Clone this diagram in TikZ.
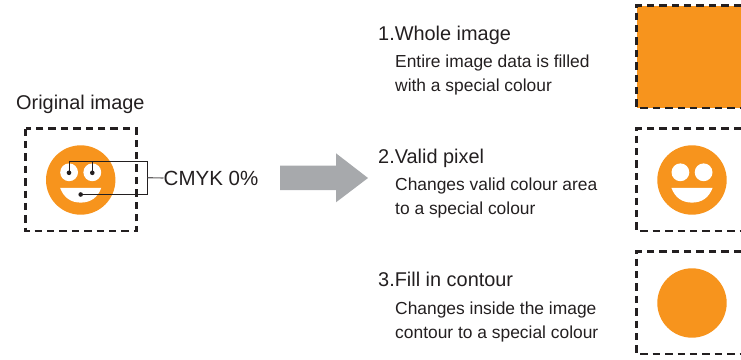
\documentclass[tikz,border=0pt]{standalone}
\usepackage{fontspec}
\setmainfont{Liberation Sans}
\definecolor{facecol}{HTML}{F7941D}
\definecolor{arrowcol}{HTML}{A7A9AC}
\definecolor{inkcol}{HTML}{231F20}
\tikzset{
  dashbox/.style={draw=inkcol,line width=2.4pt,dash pattern=on 7.4pt off 5pt},
  leader/.style={draw=inkcol,line width=1pt},
  headtext/.style={anchor=base west,inner sep=0pt,text=inkcol,font=\fontsize{19.9}{22}\selectfont},
  subtext/.style={anchor=base west,inner sep=0pt,text=inkcol,font=\fontsize{17.4}{20}\selectfont},
  pin/.style={circle,fill=inkcol,inner sep=0pt,minimum size=4.6pt},
  pics/smiley/.style={code={
    \fill[facecol] (0,0) circle[radius=34.7];
    \fill[white] (-11.6,-7.7) circle[radius=8.9];
    \fill[white] (11.6,-7.7) circle[radius=8.9];
    \fill[white] (-20.6,7.8) -- (20.6,7.8) .. controls (17,17.5) and (10,22.6) .. (0,22.6) .. controls (-10,22.6) and (-17,17.5) .. (-20.6,7.8) -- cycle;
  }}
}
\begin{document}
\begin{tikzpicture}[x=1pt,y=-1pt]
\useasboundingbox (0,0) rectangle (741,359);
% left image
\node[headtext] (orig) at (16,109) {Original image};
\draw[dashbox] (25.5,128.5) rectangle (136.5,231);
\pic at (80.7,180) {smiley};
\node[pin] (eyeL) at (69,172.8) {};
\node[pin] (eyeR) at (92.3,172.8) {};
\node[pin] (mouth) at (80.7,194.5) {};
\coordinate (top) at (147.7,161.7);
\coordinate (bot) at (147.7,194.5);
\coordinate (mid) at (147.7,177.7);
\node[headtext,anchor=west,font=\fontsize{20.5}{22}\selectfont] (cmyk) at (163.5,178) {CMYK 0\%};
\draw[leader] (eyeL.center) -- (eyeL.center |- top) -- (top) -- (bot) -- (mouth.center);
\draw[leader] (eyeR.center) -- (eyeR.center |- top);
\draw[draw=inkcol!70,line width=1.1pt] (mid) -- (cmyk.west);
% arrow
\fill[arrowcol] (280,165.7) -- (336,165.7) -- (336,153.3) -- (368,178) -- (336,202.3) -- (336,190) -- (280,190) -- cycle;
% texts
\node[headtext] (t1) at (378,40) {1.Whole image};
\node[subtext] (s1a) at (395,67.8) {Entire image data is filled};
\node[subtext] (s1b) at (395,91.8) {with a special colour};
\node[headtext] (t2) at (378,163) {2.Valid pixel};
\node[subtext] (s2a) at (395,190.8) {Changes valid colour area};
\node[subtext] (s2b) at (395,214.8) {to a special colour};
\node[headtext] (t3) at (378,286) {3.Fill in contour};
\node[subtext] (s3a) at (395,314.8) {Changes inside the image};
\node[subtext] (s3b) at (395,338.8) {contour to a special colour};
% right column
\fill[facecol] (636.5,5.5) rectangle (741,108);
\draw[dashbox] (741,5.5) -- (636.5,5.5) -- (636.5,108) -- (741,108);
\draw[dashbox] (741,128.5) -- (636.5,128.5) -- (636.5,231) -- (741,231);
\pic at (692,180) {smiley};
\draw[dashbox] (741,251.5) -- (636.5,251.5) -- (636.5,354) -- (741,354);
\fill[facecol] (692,303) circle[radius=34.7];
\end{tikzpicture}
\end{document}
